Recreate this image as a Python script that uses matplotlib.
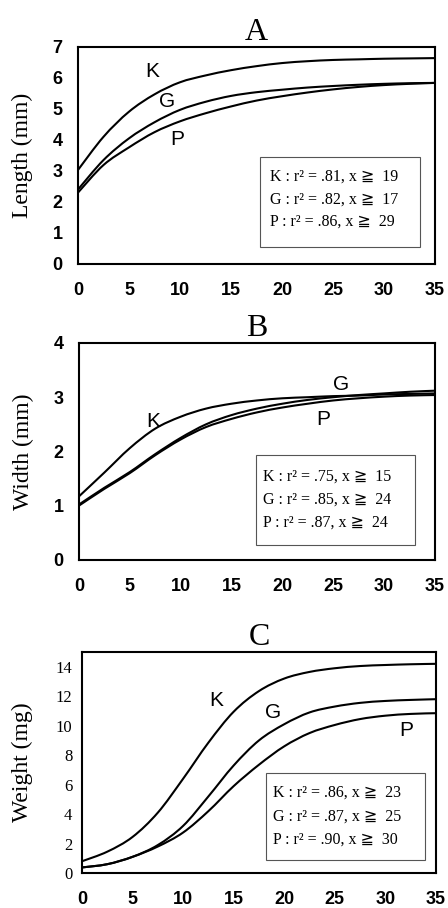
import matplotlib
matplotlib.use("Agg")
import matplotlib.pyplot as plt
import matplotlib.patches as patches
from matplotlib.path import Path

# days (x) and values
days = [0, 2.5, 5, 7.5, 10, 12.5, 15, 17.5, 20, 22.5, 25, 27.5, 30, 32.5, 35]

length_K = [3.03, 4.1, 4.91, 5.47, 5.86, 6.08, 6.25, 6.38, 6.48, 6.54, 6.58, 6.6, 6.62, 6.63, 6.64]
length_G = [2.4, 3.35, 4.05, 4.57, 4.97, 5.23, 5.42, 5.54, 5.62, 5.69, 5.74, 5.78, 5.81, 5.83, 5.84]
length_P = [2.3, 3.19, 3.76, 4.25, 4.6, 4.86, 5.08, 5.27, 5.41, 5.53, 5.63, 5.71, 5.77, 5.81, 5.84]

width_K = [1.17, 1.61, 2.06, 2.42, 2.64, 2.79, 2.88, 2.94, 2.98, 3.0, 3.02, 3.03, 3.05, 3.06, 3.07]
width_G = [1.02, 1.33, 1.62, 1.95, 2.25, 2.5, 2.67, 2.79, 2.88, 2.95, 3.0, 3.04, 3.07, 3.1, 3.12]
width_P = [1.0, 1.31, 1.6, 1.93, 2.22, 2.45, 2.6, 2.72, 2.81, 2.88, 2.94, 2.98, 3.01, 3.03, 3.04]

weight_K = [0.8, 1.45, 2.45, 4.1, 6.4, 8.85, 10.95, 12.35, 13.2, 13.65, 13.9, 14.05, 14.12, 14.17, 14.2]
weight_G = [0.38, 0.6, 1.1, 1.9, 3.2, 5.2, 7.3, 9.0, 10.1, 10.9, 11.3, 11.55, 11.68, 11.75, 11.8]
weight_P = [0.38, 0.6, 1.1, 1.8, 2.75, 4.2, 5.9, 7.35, 8.6, 9.5, 10.05, 10.45, 10.68, 10.8, 10.85]

x_ticks = [0, 5, 10, 15, 20, 25, 30, 35]

legend_A = ["K : r\u00b2 = .81, x \u2267  19", "G : r\u00b2 = .82, x \u2267  17", "P : r\u00b2 = .86, x \u2267  29"]
legend_B = ["K : r\u00b2 = .75, x \u2267  15", "G : r\u00b2 = .85, x \u2267  24", "P : r\u00b2 = .87, x \u2267  24"]
legend_C = ["K : r\u00b2 = .86, x \u2267  23", "G : r\u00b2 = .87, x \u2267  25", "P : r\u00b2 = .90, x \u2267  30"]

SERIF = ["Liberation Serif", "DejaVu Serif", "DejaVu Sans"]
SANS = ["Liberation Sans", "DejaVu Sans"]

fig = plt.figure(figsize=(4.48, 9.08), dpi=100)


def smooth_line(ax, xs, ys):
    # smoothed line through the points (like a spreadsheet "smoothed line")
    pts = list(zip(xs, ys))
    n = len(pts)
    verts = [pts[0]]
    codes = [Path.MOVETO]
    for i in range(n - 1):
        p0 = pts[max(i - 1, 0)]
        p1 = pts[i]
        p2 = pts[i + 1]
        p3 = pts[min(i + 2, n - 1)]
        c1 = (p1[0] + (p2[0] - p0[0]) / 6, p1[1] + (p2[1] - p0[1]) / 6)
        c2 = (p2[0] - (p3[0] - p1[0]) / 6, p2[1] - (p3[1] - p1[1]) / 6)
        verts += [c1, c2, p2]
        codes += [Path.CURVE4] * 3
    ax.add_patch(patches.PathPatch(Path(verts, codes), facecolor="none",
                                   edgecolor="black", lw=1.5, transform=ax.transData))


def draw_panel(rect, title, ylabel, ymax, yticks, curves, labels, legend, box, ylab_x,
               serif_yticks=False):
    ax = fig.add_axes(rect)
    for ys in curves:
        smooth_line(ax, days, ys)
    ax.set_xlim(0, 35)
    ax.set_ylim(0, ymax)
    ax.set_xticks(x_ticks)
    ax.set_yticks(yticks)
    for s in ax.spines.values():
        s.set_linewidth(1.5)
    ax.tick_params(length=0)
    ax.tick_params(axis="x", pad=13)
    for t in ax.get_xticklabels():
        t.set_fontfamily(SANS)
        t.set_fontweight("bold")
        t.set_fontsize(13)
    if serif_yticks:
        ax.tick_params(axis="y", pad=7)
        for t in ax.get_yticklabels():
            t.set_fontfamily(SERIF)
            t.set_fontsize(12)
    else:
        ax.tick_params(axis="y", pad=11)
        for t in ax.get_yticklabels():
            t.set_fontfamily(SANS)
            t.set_fontweight("bold")
            t.set_fontsize(13)
    ax.set_ylabel(ylabel, family=SERIF, fontsize=17)
    ax.yaxis.set_label_coords(ylab_x, 0.5)
    ax.set_title(title, family=SERIF, fontsize=23, pad=2)

    for name, (lx, ly) in labels.items():
        ax.text(lx, ly, name, family=SANS, fontsize=15, ha="center", va="center")

    bx0, by0, bx1, by1, tx, tys = box
    ax.add_patch(patches.Rectangle((bx0, by0), bx1 - bx0, by1 - by0, transform=ax.transAxes,
                                   facecolor="white", edgecolor="#555555", lw=0.8))
    for line, ty in zip(legend, tys):
        ax.text(tx, ty, line, transform=ax.transAxes, family=SERIF, fontsize=11.5,
                ha="left", va="center")
    return ax


draw_panel([0.174, 0.7093, 0.797, 0.239], "A", "Length (mm)", 7, range(0, 8),
           [length_K, length_G, length_P],
           {"K": (7.25, 6.2), "G": (8.7, 5.24), "P": (9.7, 4.0)},
           legend_A, (0.51, 0.078, 0.958, 0.493, 0.538, (0.401, 0.295, 0.194)), -0.126)

draw_panel([0.176, 0.3833, 0.795, 0.239], "B", "Width (mm)", 4, range(0, 5),
           [width_K, width_G, width_P],
           {"K": (7.3, 2.55), "G": (25.8, 3.23), "P": (24.0, 2.58)},
           legend_B, (0.497, 0.069, 0.944, 0.484, 0.517, (0.382, 0.276, 0.171)), -0.126)

draw_panel([0.183, 0.0385, 0.79, 0.2434], "C", "Weight (mg)", 15, range(0, 15, 2),
           [weight_K, weight_G, weight_P],
           {"K": (13.3, 11.7), "G": (18.9, 10.9), "P": (32.1, 9.7)},
           legend_C, (0.52, 0.059, 0.969, 0.452, 0.54, (0.362, 0.253, 0.149)), -0.138,
           serif_yticks=True)

fig.savefig("out.png", dpi=100)
